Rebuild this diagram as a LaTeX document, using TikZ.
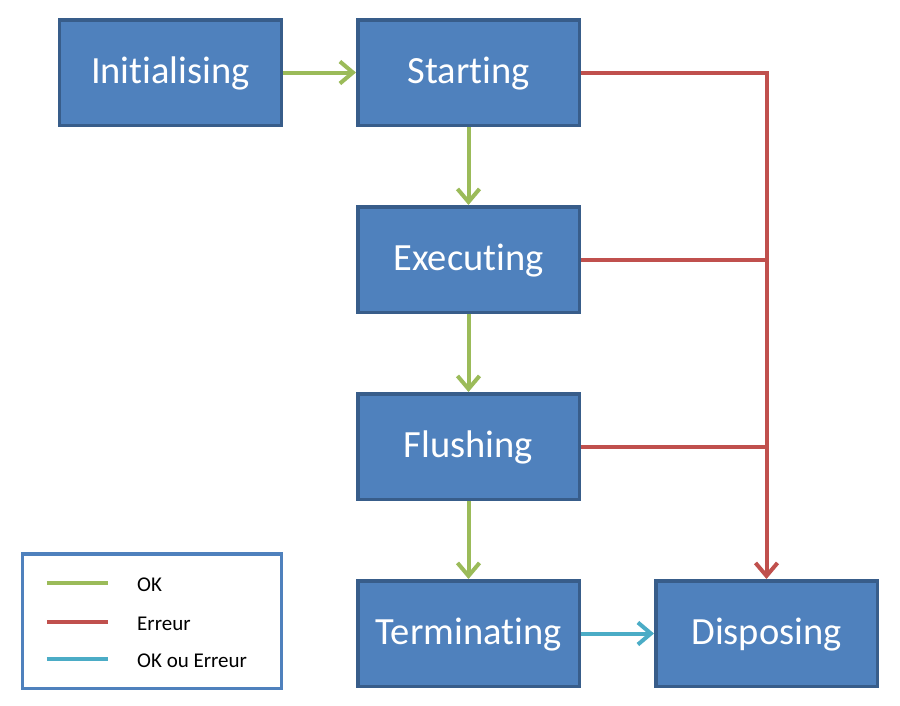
\documentclass[tikz,border=0pt]{standalone}
\usepackage{fontspec}
\setmainfont{Carlito}[Ligatures=NoCommon]
\usetikzlibrary{arrows.meta, positioning}
\definecolor{box_fill}{RGB}{79, 129, 189}
\definecolor{box_line}{RGB}{56, 93, 138}
\definecolor{ok_col}{RGB}{155, 187, 89}
\definecolor{err_col}{RGB}{192, 80, 77}
\definecolor{any_col}{RGB}{75, 172, 198}

\begin{document}
\begin{tikzpicture}[
    node distance=78pt and 73pt,
    st/.style={rectangle, draw=box_line, fill=box_fill, line width=3.5pt,
               minimum width=221.5pt, minimum height=105.5pt, text=white,
               font=\fontsize{38.5}{44}\selectfont, text depth=4pt},
    tip/.style={-{Straight Barb[length=13pt, width=22pt]}},
    tr/.style={line width=4pt, tip},
    ok/.style={tr, ok_col},
    err/.style={line width=4pt, err_col},
    any/.style={tr, any_col},
    legbox/.style={rectangle, draw=box_fill, fill=white, line width=3.5pt,
                   minimum width=258.5pt, minimum height=134.5pt},
    key/.style={anchor=west, inner sep=0pt, font=\fontsize{21}{25}\selectfont},
]
  \useasboundingbox (-170.5pt,72.5pt) rectangle (729.5pt,-632.5pt);

  \node[st] (init) at (0,0) {Initialising};
  \node[st, right=of init] (start) {Starting};
  \node[st, below=of start] (exec) {Executing};
  \node[st, below=of exec] (flush) {Flushing};
  \node[st, below=of flush] (term) {Terminating};
  \node[st, right=of term] (disp) {Disposing};

  % succes
  \draw[ok] (init) -- (start);
  \draw[ok] (start) -- (exec);
  \draw[ok] (exec) -- (flush);
  \draw[ok] (flush) -- (term);
  \draw[any] (term) -- (disp);

  % erreurs
  \coordinate (jexec) at (exec.east -| disp.north);
  \coordinate (jflush) at (flush.east -| disp.north);
  \draw[err, tip] (start.east) -| (disp.north);
  \draw[err] (exec.east) -- (jexec);
  \draw[err] (flush.east) -- (jflush);

  % legende
  \node[legbox] (leg) at (-18.5pt,-548.5pt) {};
  \coordinate (okA) at (-123.5pt,-510.5pt);
  \coordinate (okB) at (-62.5pt,-510.5pt);
  \coordinate (errA) at (-123.5pt,-549.5pt);
  \coordinate (errB) at (-62.5pt,-549.5pt);
  \coordinate (anyA) at (-123.5pt,-586.5pt);
  \coordinate (anyB) at (-62.5pt,-586.5pt);
  \draw[line width=4pt, ok_col] (okA) -- (okB);
  \draw[line width=4pt, err_col] (errA) -- (errB);
  \draw[line width=4pt, any_col] (anyA) -- (anyB);
  \node[key] (okT) at (-33.5pt,-512pt) {OK};
  \node[key] (errT) at (-33.5pt,-551pt) {Erreur};
  \node[key] (anyT) at (-33.5pt,-588pt) {OK ou Erreur};
\end{tikzpicture}
\end{document}
